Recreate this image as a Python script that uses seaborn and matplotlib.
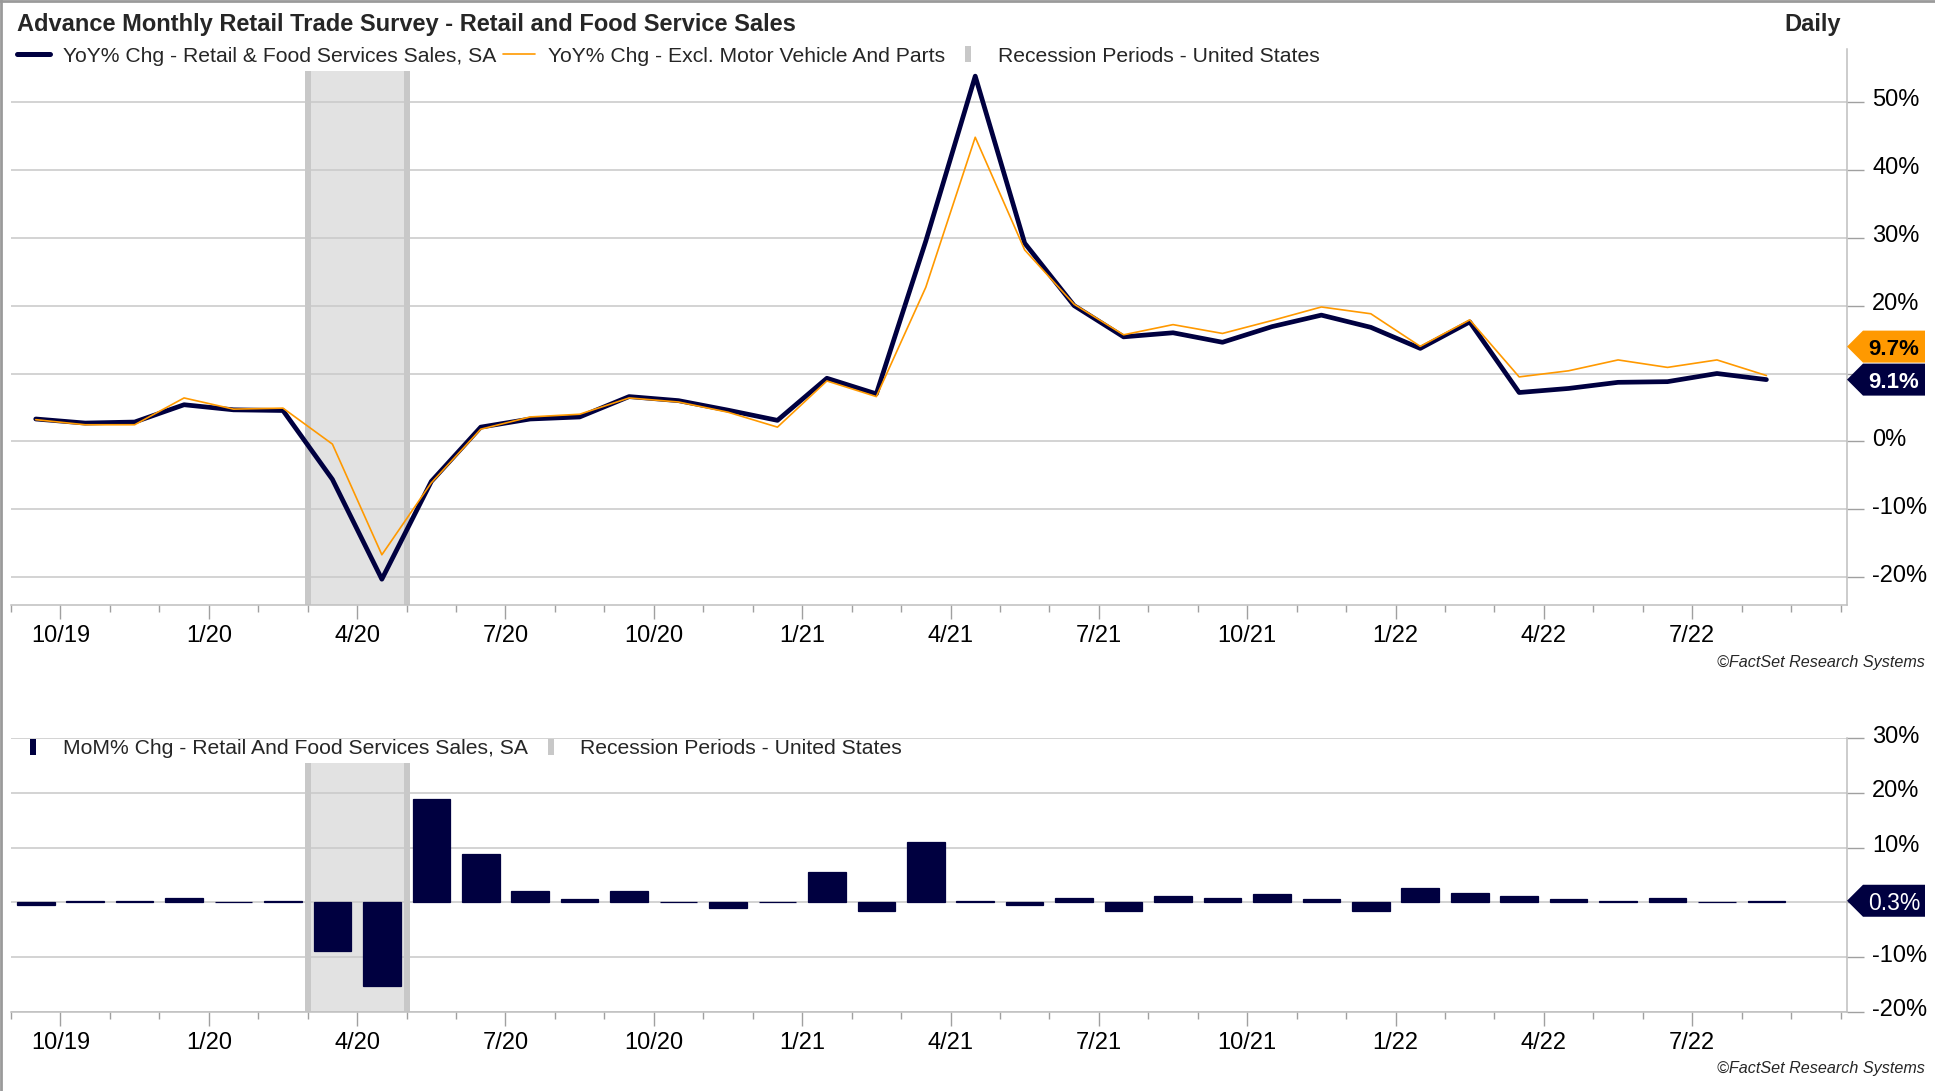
import numpy as np
import pandas as pd
import matplotlib
matplotlib.use("Agg")
import matplotlib.pyplot as plt
import matplotlib.transforms as mtransforms
from matplotlib.lines import Line2D
from matplotlib.patches import Polygon
from matplotlib.path import Path
import seaborn as sns

# ---------------- data ----------------
months = [str(p) for p in pd.period_range("2019-09", "2022-08", freq="M")]

yoy_total = [3.3, 2.7, 2.85, 5.4, 4.65, 4.55, -5.6, -20.3, -5.9, 2.1, 3.3, 3.6,
             6.6, 6.0, 4.6, 3.1, 9.3, 7.0, 29.5, 53.8, 29.2, 20.0, 15.4, 16.0,
             14.6, 16.9, 18.6, 16.8, 13.7, 17.6, 7.2, 7.8, 8.7, 8.8, 10.0, 9.1]

yoy_ex_auto = [3.2, 2.45, 2.45, 6.4, 4.75, 4.9, -0.4, -16.7, -6.1, 1.8, 3.6, 4.0,
               6.4, 5.8, 4.3, 2.1, 8.9, 6.6, 22.7, 44.8, 28.2, 20.2, 15.7, 17.2,
               15.9, 17.8, 19.8, 18.8, 14.0, 17.9, 9.5, 10.4, 12.0, 10.9, 12.0, 9.7]

mom = [-0.5, 0.3, 0.3, 0.85, 0.1, 0.3, -8.8, -15.2, 18.8, 8.9, 2.1, 0.7,
       2.1, 0.1, -1.1, 0.1, 5.6, -1.65, 11.1, 0.3, -0.5, 0.85, -1.5, 1.2,
       0.85, 1.6, 0.7, -1.65, 2.7, 1.8, 1.2, 0.7, 0.3, 0.85, 0.1, 0.3]

recession = ("2020-03", "2020-04")

tick_labels = ["10/19", "1/20", "4/20", "7/20", "10/20", "1/21",
               "4/21", "7/21", "10/21", "1/22", "4/22", "7/22"]

top_yticks = [-20, -10, 0, 10, 20, 30, 40, 50]
top_ylabels = ["-20%", "-10%", "0%", "", "20%", "30%", "40%", "50%"]   # 10% hidden by tags
bot_yticks = [-20, -10, 0, 10, 20, 30]
bot_ylabels = ["-20%", "-10%", "", "10%", "20%", "30%"]               # 0% hidden by tag

title = "Advance Monthly Retail Trade Survey - Retail and Food Service Sales"
legend_top = ["YoY% Chg - Retail & Food Services Sales, SA",
              "YoY% Chg - Excl. Motor Vehicle And Parts",
              "Recession Periods - United States"]
legend_bottom = ["MoM% Chg - Retail And Food Services Sales, SA",
                 "Recession Periods - United States"]

# ---------------- style ----------------
NAVY = "#000040"
ORANGE = "#FF9900"
GRID = "#C8C8C8"
SHADE = "#E2E2E2"
SHADE_EDGE = "#C8C8C8"
TICKC = "#A0A0A0"

sns.set_theme(style="white")
plt.rcParams["font.family"] = ["Liberation Sans", "DejaVu Sans"]

W, H = 1935, 1091
fig = plt.figure(figsize=(W / 100, H / 100), dpi=100)
fig.patch.set_facecolor("white")


def fx(px):
    return px / W


def fy(py):
    return 1 - py / H


ax1 = fig.add_axes([fx(11), fy(605), fx(1847) - fx(11), fy(49) - fy(605)])
ax2 = fig.add_axes([fx(11), fy(1012), fx(1847) - fx(11), fy(738) - fy(1012)])

df = pd.DataFrame({"idx": np.arange(len(months)), "month": months,
                   "total": yoy_total, "ex": yoy_ex_auto, "mom": mom})

sns.lineplot(data=df, x="idx", y="total", color=NAVY, lw=3.4, ax=ax1, zorder=3)
sns.lineplot(data=df, x="idx", y="ex", color=ORANGE, lw=1.2, ax=ax1, zorder=4)

sns.barplot(data=df, x="idx", y="mom", native_scale=True, color=NAVY,
            saturation=1, width=0.76, errorbar=None, ax=ax2, zorder=3,
            edgecolor=NAVY, linewidth=0.9)

i0 = months.index(recession[0]) - 0.5
i1 = months.index(recession[1]) + 0.5

n = len(months)
major = [0.5 + 3 * k for k in range(len(tick_labels))]
minor = np.arange(-0.5, n + 1, 1.0)

lab_shift = mtransforms.ScaledTranslation(0, 4 / 100, fig.dpi_scale_trans)

for ax, ylim, yt, yl, frac in ((ax1, (-24.1, 57.8), top_yticks, top_ylabels, 0.96),
                               (ax2, (-20, 30), bot_yticks, bot_ylabels, 0.909)):
    ax.axvspan(i0, i1, ymin=0, ymax=frac, facecolor=SHADE, lw=0, zorder=0.2)
    for xv in (i0, i1):
        ax.axvline(xv, ymin=0, ymax=frac, color=SHADE_EDGE, lw=4.3,
                   solid_capstyle="butt", zorder=0.3)
    ax.set_xlim(-0.5, n + 0.63)
    ax.set_ylim(*ylim)
    ax.set_yticks(yt)
    ax.set_yticklabels(yl)
    ax.set_xticks(major)
    ax.set_xticklabels(tick_labels)
    ax.set_xticks(minor, minor=True)
    ax.yaxis.tick_right()
    ax.tick_params(axis="x", which="major", length=10, width=1, color=TICKC,
                   pad=4.3, labelsize=17, bottom=True, labelcolor="black")
    ax.tick_params(axis="x", which="minor", length=5, width=1, color=TICKC, bottom=True)
    ax.tick_params(axis="y", length=12, width=1, color=TICKC, pad=6,
                   labelsize=17, right=True, left=False, labelcolor="black")
    for lab in ax.get_yticklabels():
        lab.set_transform(lab.get_transform() + lab_shift)
    ax.grid(axis="y", color=GRID, lw=1.1)
    ax.grid(axis="x", visible=False)
    ax.set_axisbelow(True)
    for s in ("top", "left"):
        ax.spines[s].set_visible(False)
    for s in ("right", "bottom"):
        ax.spines[s].set_color("#BFBFBF")
        ax.spines[s].set_linewidth(1.1)
    ax.set_xlabel("")
    ax.set_ylabel("")
    ax.set_facecolor("none")

# ---------------- legends ----------------
vbar = Path([(-0.2, -0.5), (0.2, -0.5), (0.2, 0.5), (-0.2, 0.5), (-0.2, -0.5)],
            closed=True)
h_top = [Line2D([0], [0], color=NAVY, lw=3.6),
         Line2D([0], [0], color=ORANGE, lw=1.2),
         Line2D([0], [0], ls="none", marker=vbar, markersize=12,
                markerfacecolor=SHADE_EDGE, markeredgewidth=0)]
fig.legend(h_top, legend_top, loc="center left", bbox_to_anchor=(fx(17), fy(56)),
           ncol=3, frameon=False, fontsize=15.2, handlelength=1.55,
           handletextpad=0.62, columnspacing=0.3, borderpad=0, borderaxespad=0)

h_bot = [Line2D([0], [0], ls="none", marker=vbar, markersize=12,
                markerfacecolor=NAVY, markeredgewidth=0),
         Line2D([0], [0], ls="none", marker=vbar, markersize=12,
                markerfacecolor=SHADE_EDGE, markeredgewidth=0)]
fig.legend(h_bot, legend_bottom, loc="center left", bbox_to_anchor=(fx(17), fy(749)),
           ncol=2, frameon=False, fontsize=15.2, handlelength=1.55,
           handletextpad=0.62, columnspacing=0.3, borderpad=0, borderaxespad=0)

# ---------------- texts ----------------
fig.text(fx(17), fy(24), title, fontsize=17, weight="bold", ha="left", va="center")
fig.text(fx(1841), fy(24), "Daily", fontsize=17, weight="bold", ha="right", va="center")
for yy in (663, 1069):
    fig.text(fx(1925), fy(yy), "\u00a9FactSet Research Systems", fontsize=11.6,
             style="italic", ha="right", va="center")

# ---------------- value tags ----------------
IDT = mtransforms.IdentityTransform()


def tag(ax, value, yc, face, tcolor, weight, size):
    tip = ax.transAxes.transform((1, 0))[0]
    h, a, w = 16, 16, 78
    verts = [(tip, yc), (tip + a, yc + h), (tip + w, yc + h),
             (tip + w, yc - h), (tip + a, yc - h)]
    fig.add_artist(Polygon(verts, closed=True, facecolor=face, edgecolor="none",
                           transform=IDT, clip_on=False, zorder=5))
    fig.text(tip + 47, yc, f"{value:.1f}%", transform=IDT, ha="center",
             va="center_baseline", color=tcolor, weight=weight, fontsize=size, zorder=6)


y_navy = ax1.transData.transform((0, yoy_total[-1]))[1]
tag(ax1, yoy_total[-1], y_navy, NAVY, "white", "bold", 16)
tag(ax1, yoy_ex_auto[-1], y_navy + 33, ORANGE, "black", "bold", 16)
y_mom = ax2.transData.transform((0, mom[-1]))[1]
tag(ax2, mom[-1], y_mom, NAVY, "white", "normal", 16.5)

# frame lines
fig.add_artist(Line2D([0, 1], [1 - 1 / H, 1 - 1 / H], transform=fig.transFigure,
                      color="#9A9A9A", lw=2))
fig.add_artist(Line2D([1 / W, 1 / W], [0, 1], transform=fig.transFigure,
                      color="#9A9A9A", lw=2))

fig.savefig("out.png", dpi=100, facecolor="white")
